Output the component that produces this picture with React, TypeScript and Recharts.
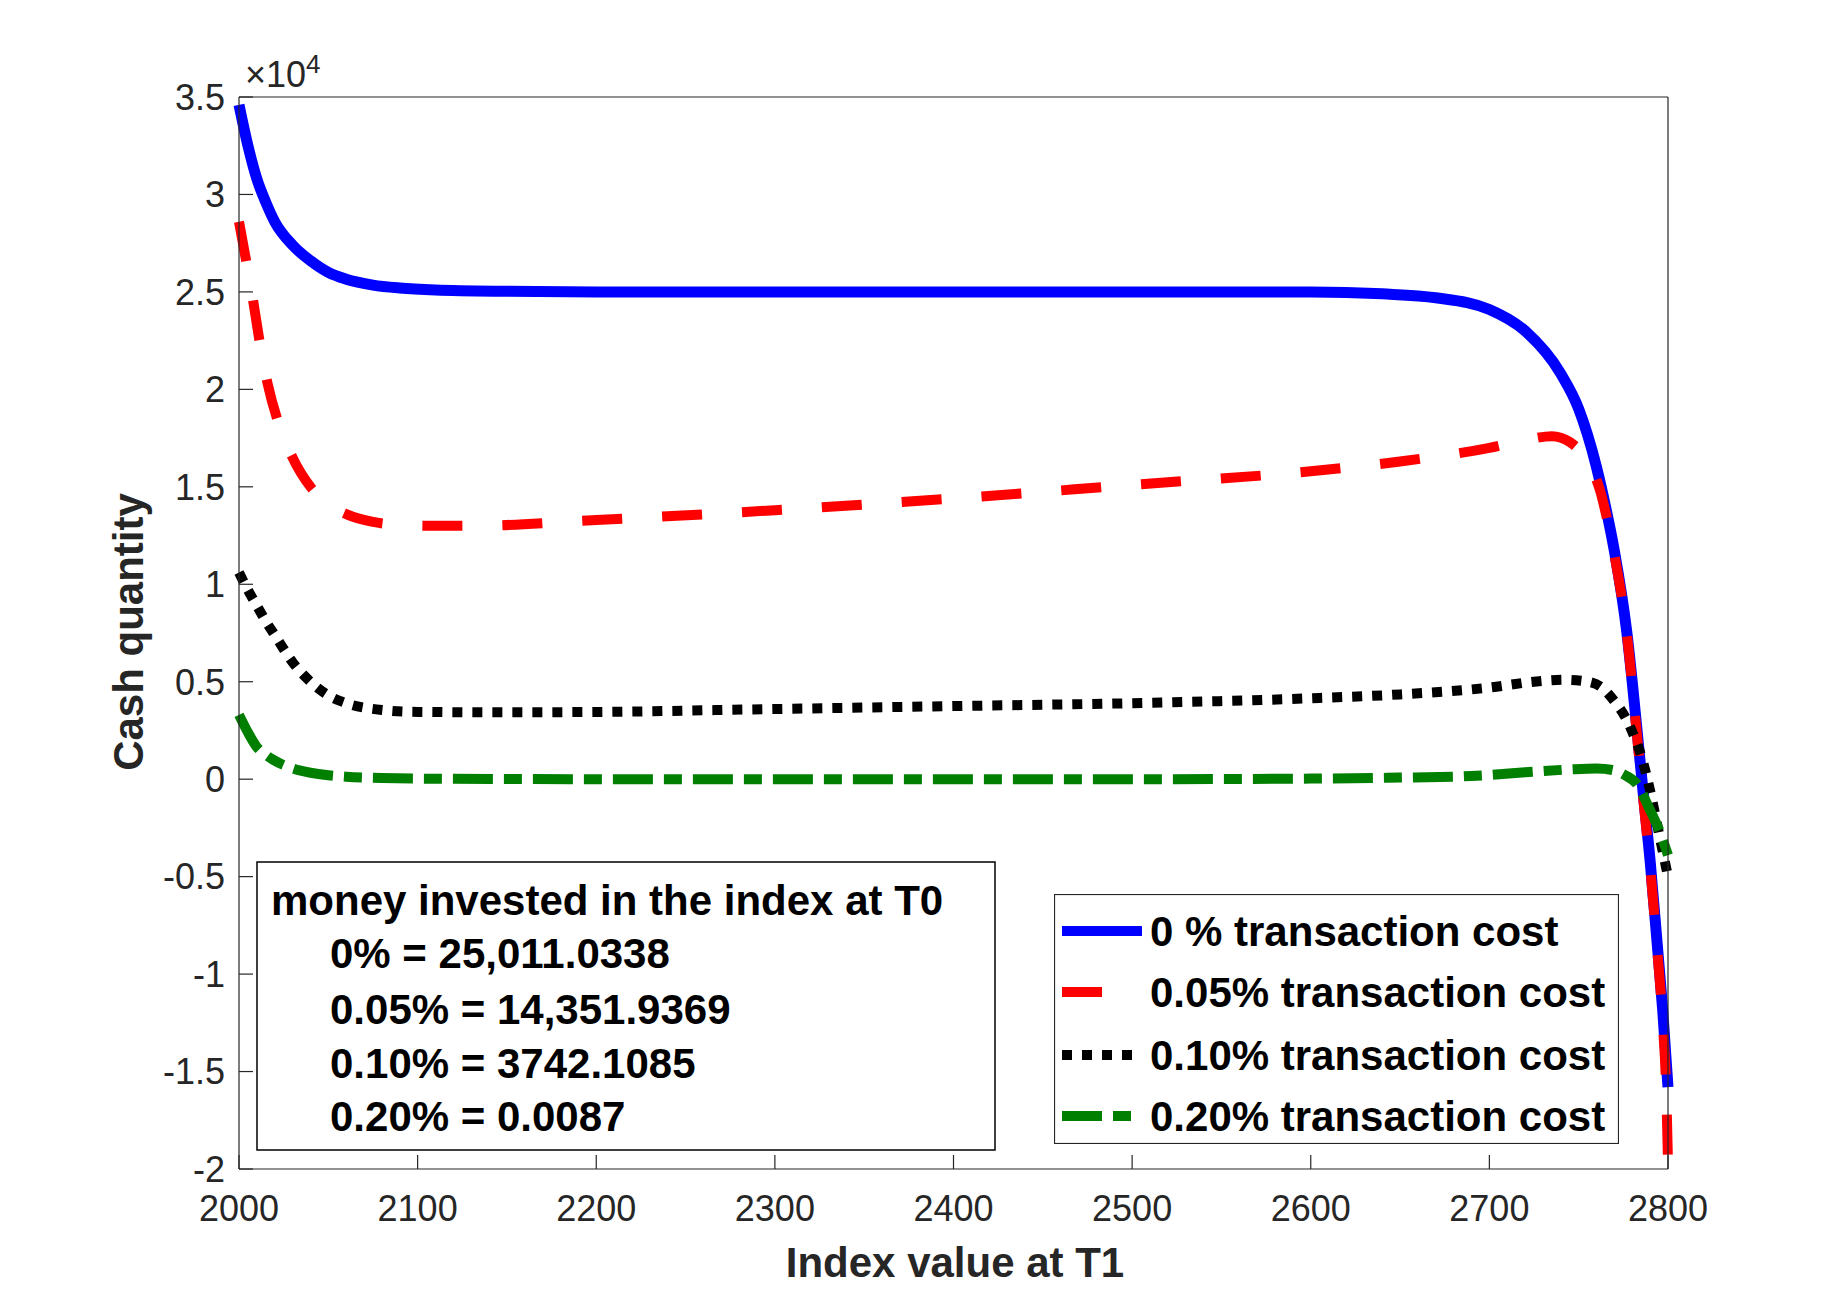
import { Legend, Line, LineChart, XAxis, YAxis } from "recharts";

// axis ticks
const xTicks = [2000, 2100, 2200, 2300, 2400, 2500, 2600, 2700, 2800];
const yTicks = [-20000, -15000, -10000, -5000, 0, 5000, 10000, 15000, 20000, 25000, 30000, 35000];

// 0 % transaction cost
const cost0X = [2000, 2005, 2010, 2015, 2020, 2030, 2040, 2050, 2060, 2075, 2090, 2110, 2150, 2200, 2300, 2400, 2500, 2600, 2640, 2670, 2700, 2720, 2740, 2750, 2760, 2765, 2770, 2777, 2783, 2786, 2790, 2794, 2797, 2800];
const cost0Y = [34600, 32500, 30800, 29600, 28600, 27400, 26600, 26000, 25650, 25350, 25200, 25100, 25030, 25000, 25000, 25000, 25000, 25000, 24900, 24700, 24100, 23000, 20800, 19000, 16000, 14000, 11700, 7500, 2200, -600, -4200, -8500, -11800, -15800];

// 0.05% transaction cost
const cost005X = [2000, 2004, 2008, 2012, 2016, 2022, 2030, 2040, 2050, 2060, 2075, 2090, 2110, 2130, 2200, 2300, 2400, 2500, 2600, 2650, 2700, 2720, 2735, 2745, 2752, 2758, 2762, 2766, 2770, 2777, 2783, 2786, 2790, 2794, 2797, 2799, 2800];
const cost005Y = [28600, 26600, 24500, 22200, 20300, 18300, 16500, 15000, 14100, 13600, 13200, 13050, 13000, 13000, 13300, 13800, 14400, 15100, 15800, 16300, 17000, 17400, 17600, 17300, 16700, 15800, 14800, 13300, 11500, 7400, 1900, -900, -4500, -8800, -12400, -16000, -19700];

// 0.10% transaction cost
const cost010X = [2000, 2005, 2010, 2015, 2020, 2030, 2040, 2050, 2060, 2080, 2100, 2150, 2200, 2300, 2400, 2500, 2600, 2650, 2700, 2725, 2742, 2755, 2763, 2770, 2776, 2781, 2785, 2790, 2795, 2800];
const cost010Y = [10600, 9700, 8900, 8100, 7400, 6000, 5000, 4300, 3900, 3550, 3450, 3430, 3450, 3600, 3750, 3900, 4150, 4350, 4700, 5000, 5100, 5000, 4700, 4000, 3200, 2200, 1200, -600, -2800, -5000];

// 0.20% transaction cost
const cost020X = [2000, 2005, 2010, 2015, 2020, 2030, 2040, 2050, 2060, 2080, 2100, 2200, 2300, 2400, 2500, 2600, 2650, 2690, 2720, 2745, 2760, 2770, 2776, 2783, 2789, 2795, 2800];
const cost020Y = [3300, 2400, 1650, 1250, 950, 550, 330, 200, 130, 60, 30, 0, 0, 0, 0, 30, 80, 160, 350, 500, 550, 450, 200, -300, -1400, -2600, -3900];

// money invested at T0 (text box)
const investedLabels = ["0%", "0.05%", "0.10%", "0.20%"];
const investedValues = ["25,011.0338", "14,351.9369", "3742.1085", "0.0087"];

const toPoints = (xs: number[], ys: number[]) => xs.map((x, i) => ({ x, y: ys[i] }));

const series = [
  { name: "0 % transaction cost", data: toPoints(cost0X, cost0Y), color: "#0000ff", dash: undefined, width: 11 },
  { name: "0.05% transaction cost", data: toPoints(cost005X, cost005Y), color: "#ff0000", dash: "40 40", width: 10 },
  { name: "0.10% transaction cost", data: toPoints(cost010X, cost010Y), color: "#000000", dash: "10 10", width: 10 },
  { name: "0.20% transaction cost", data: toPoints(cost020X, cost020Y), color: "#007f00", dash: "40 11 18 11", width: 10 },
];

const AXIS_COLOR = "#262626";
const axisLine = { stroke: AXIS_COLOR, strokeWidth: 1.2 };

// legend box drawn like the matlab one
const renderLegend = () => (
  <svg width={565} height={250} style={{ display: "block" }}>
    <rect x={0.5} y={0.5} width={564} height={249} fill="#fff" stroke={AXIS_COLOR} strokeWidth={1.2} />
    {series.map((s, i) => {
      const cy = [37, 98, 161, 222][i];
      return (
        <g key={s.name}>
          <line x1={8} x2={88} y1={cy} y2={cy} stroke={s.color} strokeWidth={10} strokeDasharray={s.dash} />
          <text x={96} y={cy + 15} fontSize={42} fontWeight="bold" fill="#000">
            {s.name}
          </text>
        </g>
      );
    })}
  </svg>
);

export default function App() {
  return (
    <div
      style={{
        position: "absolute",
        left: 0,
        top: 0,
        width: 1844,
        height: 1298,
        background: "#fff",
        fontFamily: '"Liberation Sans", Arial, Helvetica, sans-serif',
      }}
    >
      {/* plot box: left 239, top 97, right 1668, bottom 1169 */}
      <LineChart width={1844} height={1298} margin={{ top: 87, right: 166, bottom: 69, left: 179 }}>
        <XAxis
          dataKey="x"
          type="number"
          domain={[2000, 2800]}
          ticks={xTicks}
          interval={0}
          height={60}
          tickSize={-14}
          tickMargin={40}
          tick={{ fontSize: 36, fill: AXIS_COLOR }}
          tickLine={axisLine}
          axisLine={axisLine}
        />
        <YAxis
          type="number"
          domain={[-20000, 35000]}
          ticks={yTicks}
          interval={0}
          width={60}
          tickSize={-14}
          tickMargin={28}
          tickFormatter={(v: number) => String(v / 10000)}
          tick={{ fontSize: 36, fill: AXIS_COLOR }}
          tickLine={axisLine}
          axisLine={axisLine}
        />
        {/* top / right edges of the box */}
        <XAxis
          xAxisId="top"
          orientation="top"
          type="number"
          domain={[2000, 2800]}
          ticks={xTicks}
          interval={0}
          height={10}
          tickSize={-14}
          tick={false}
          tickLine={axisLine}
          axisLine={axisLine}
        />
        <YAxis
          yAxisId="right"
          orientation="right"
          type="number"
          domain={[-20000, 35000]}
          ticks={yTicks}
          interval={0}
          width={10}
          tickSize={-14}
          tick={false}
          tickLine={axisLine}
          axisLine={axisLine}
        />
        {series.map((s) => (
          <Line
            key={s.name}
            name={s.name}
            data={s.data}
            dataKey="y"
            type="monotone"
            stroke={s.color}
            strokeWidth={s.width}
            strokeDasharray={s.dash}
            dot={false}
            activeDot={false}
            isAnimationActive={false}
          />
        ))}
        <Legend
          layout="vertical"
          align="center"
          verticalAlign="middle"
          content={renderLegend}
          wrapperStyle={{ left: 1054, top: 894, width: 565, height: 250 }}
        />
      </LineChart>

      {/* titles, exponent and the text box */}
      <svg
        width={1844}
        height={1298}
        style={{ position: "absolute", left: 0, top: 0, pointerEvents: "none" }}
      >
        <text x={245} y={87} fontSize={36} fill={AXIS_COLOR}>
          ×10
          <tspan dy={-14} fontSize={26}>
            4
          </tspan>
        </text>
        <text
          transform="translate(143,632) rotate(-90)"
          textAnchor="middle"
          fontSize={42}
          fontWeight="bold"
          fill={AXIS_COLOR}
        >
          Cash quantity
        </text>
        <text x={955} y={1277} textAnchor="middle" fontSize={42} fontWeight="bold" fill={AXIS_COLOR}>
          Index value at T1
        </text>

        <rect x={257} y={862} width={738} height={288} fill="#fff" stroke="#000" strokeWidth={1.5} />
        <text x={271} y={915} fontSize={42} fontWeight="bold" fill="#000">
          money invested in the index at T0
        </text>
        {investedLabels.map((label, i) => (
          <text key={label} x={330} y={[968, 1024, 1078, 1131][i]} fontSize={42} fontWeight="bold" fill="#000">
            {`${label} = ${investedValues[i]}`}
          </text>
        ))}
      </svg>
    </div>
  );
}
